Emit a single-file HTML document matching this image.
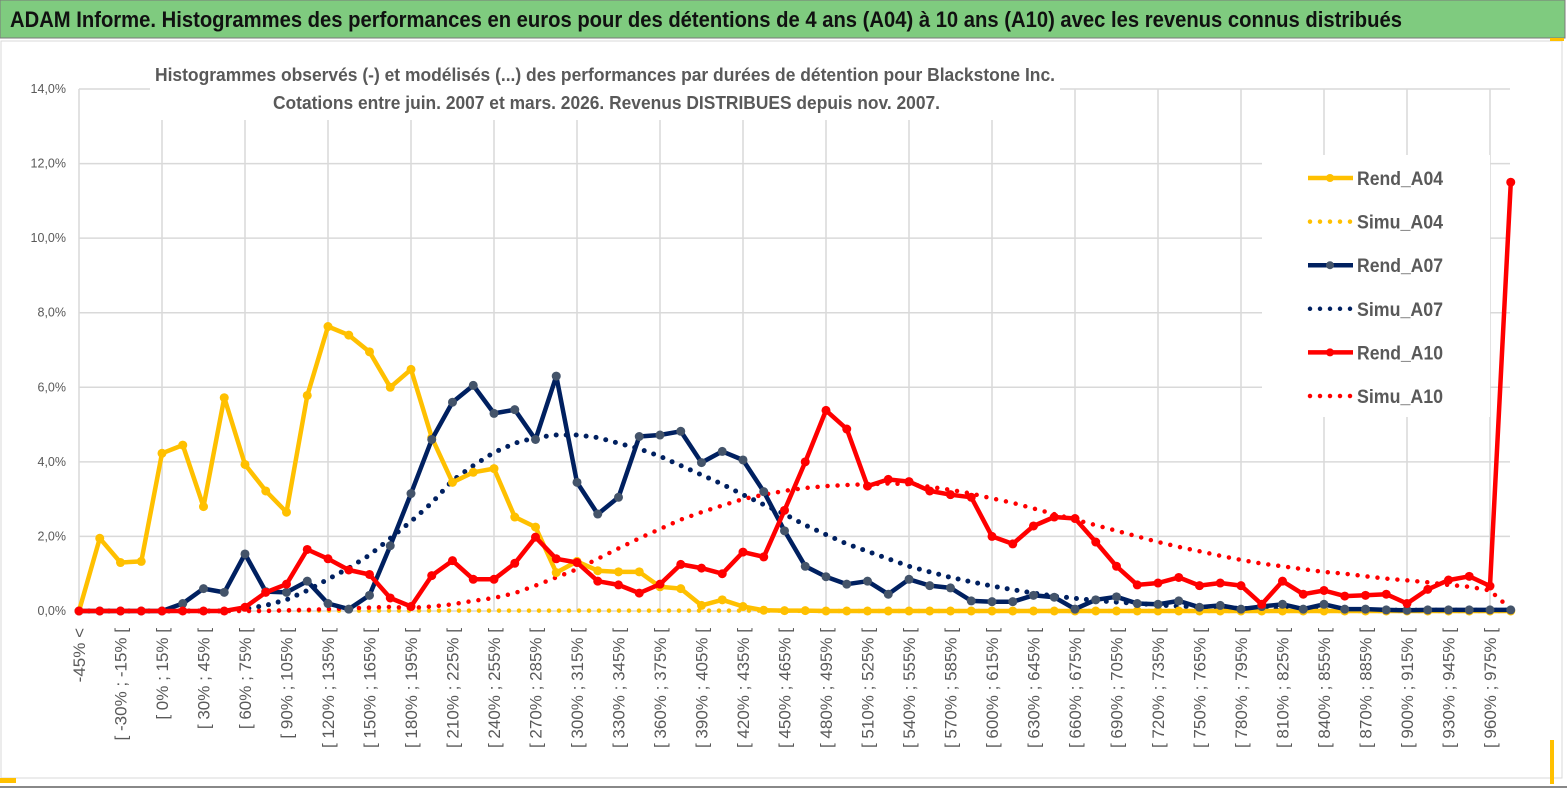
<!DOCTYPE html>
<html><head><meta charset="utf-8"><style>
html,body{margin:0;padding:0;background:#fff;}
svg{display:block;font-family:"Liberation Sans",sans-serif;}
</style></head><body>
<svg id="chart" width="1567" height="789" viewBox="0 0 1567 789" xmlns="http://www.w3.org/2000/svg">
<rect x="0" y="0" width="1567" height="789" fill="#fff"/>
<rect x="0" y="0" width="1565" height="38" fill="#7fcb7f" stroke="#7a7a7a" stroke-width="1"/>
<text x="10" y="27" font-size="22" font-weight="bold" fill="#111" textLength="1392" lengthAdjust="spacingAndGlyphs">ADAM Informe. Histogrammes des performances en euros pour des détentions de 4 ans (A04) à 10 ans (A10) avec les revenus connus distribués</text>
<rect x="1" y="41" width="1561" height="737" fill="none" stroke="#d9d9d9" stroke-width="1"/>
<line x1="0" y1="787" x2="1567" y2="787" stroke="#888" stroke-width="2"/>
<rect x="0" y="778" width="16" height="5" fill="#ffc000"/>
<rect x="1550" y="740" width="4" height="44" fill="#ffc000"/>
<rect x="1550" y="38" width="14" height="3" fill="#ffc000"/>
<g id="grid"></g>
<g id="ylabels"></g>
<g id="xlabels"></g>
<g id="series"></g>
<rect x="150" y="60" width="910" height="60" fill="#fff"/>
<text x="155" y="81" font-size="18" font-weight="bold" fill="#595959" textLength="900" lengthAdjust="spacingAndGlyphs">Histogrammes observés (-)  et modélisés (...) des performances par durées de détention pour Blackstone Inc.</text>
<text x="273" y="109" font-size="18" font-weight="bold" fill="#595959" textLength="667" lengthAdjust="spacingAndGlyphs">Cotations entre juin. 2007 et mars. 2026. Revenus DISTRIBUES depuis nov. 2007.</text>
<g id="legend"></g>
</svg>
<script>
const categories = (function(){ const c=["-45% <"]; for(let a=-45;a<975;a+=15){c.push("[ "+a+"% ; "+(a+15)+"% [");} c.push(">= 975%"); return c; })();
const yTicks = [0,2,4,6,8,10,12,14];
const rendA04 = [0,1.95,1.3,1.33,4.23,4.45,2.8,5.72,3.93,3.22,2.65,5.78,7.63,7.4,6.95,6.0,6.48,4.65,3.45,3.72,3.82,2.52,2.25,1.03,1.33,1.08,1.05,1.05,0.65,0.6,0.15,0.3,0.12,0.02,0.01,0.01,0,0,0,0,0,0,0,0,0,0,0,0,0,0,0,0,0,0,0,0,0,0,0,0,0,0,0,0,0,0,0,0,0,0];
const simuA04 = [0,0,0,0,0,0,0,0,0.01,0.01,0.01,0.01,0.01,0.01,0.01,0.01,0.01,0.01,0.01,0.01,0.01,0.01,0.01,0.01,0.01,0.01,0.01,0.01,0.01,0.01,0.01,0.01,0.01,0.01,0.01,0,0,0,0,0,0,0,0,0,0,0,0,0,0,0,0,0,0,0,0,0,0,0,0,0,0,0,0,0,0,0,0,0,0,0];
const rendA07 = [0,0,0,0,0,0.2,0.6,0.5,1.53,0.52,0.5,0.8,0.2,0.05,0.42,1.75,3.15,4.6,5.6,6.05,5.3,5.4,4.6,6.3,3.45,2.6,3.05,4.68,4.72,4.82,3.98,4.28,4.05,3.2,2.15,1.2,0.92,0.72,0.8,0.45,0.85,0.68,0.62,0.27,0.25,0.25,0.42,0.37,0.05,0.3,0.38,0.2,0.18,0.27,0.1,0.15,0.05,0.12,0.18,0.05,0.18,0.05,0.05,0.03,0.02,0.03,0.03,0.03,0.03,0.03];
const simuA07 = [0,0,0,0,0,0,0,0,0.05,0.15,0.3,0.55,0.85,1.15,1.5,1.95,2.4,2.9,3.5,3.9,4.25,4.5,4.65,4.72,4.72,4.65,4.5,4.35,4.15,3.9,3.65,3.4,3.12,2.85,2.6,2.3,2.05,1.8,1.6,1.4,1.2,1.05,0.9,0.78,0.67,0.57,0.48,0.4,0.34,0.28,0.24,0.2,0.16,0.13,0.11,0.09,0.07,0.06,0.05,0.04,0.03,0.02,0.02,0.02,0.02,0.02,0.02,0.02,0.02,0.02];
const rendA10 = [0,0,0,0,0,0,0,0,0.1,0.5,0.72,1.65,1.4,1.1,0.98,0.35,0.12,0.95,1.35,0.85,0.85,1.28,1.98,1.4,1.3,0.8,0.7,0.48,0.72,1.25,1.15,1.0,1.58,1.45,2.7,4.0,5.38,4.88,3.35,3.53,3.47,3.22,3.12,3.05,2.0,1.8,2.28,2.52,2.48,1.85,1.2,0.7,0.75,0.9,0.68,0.75,0.68,0.18,0.8,0.45,0.55,0.4,0.42,0.45,0.2,0.58,0.83,0.93,0.67,11.5];
const simuA10 = [0,0,0,0,0,0,0,0,0,0,0.02,0.03,0.05,0.07,0.09,0.11,0.08,0.12,0.18,0.27,0.35,0.48,0.68,0.9,1.12,1.4,1.68,1.95,2.2,2.45,2.65,2.83,3.0,3.12,3.22,3.3,3.35,3.38,3.4,3.42,3.4,3.33,3.25,3.15,3.02,2.9,2.75,2.6,2.45,2.3,2.15,2.0,1.85,1.72,1.6,1.48,1.37,1.27,1.2,1.12,1.05,1.0,0.93,0.87,0.82,0.77,0.7,0.65,0.55,0.05];

const NS="http://www.w3.org/2000/svg";
const X0=79, XSTEP=20.75, Y0=611, YPER=(611-89)/14, XR=1510;
function xs(i){return X0+XSTEP*i;}
function ys(v){return Y0-v*YPER;}
function mk(tag,attrs,parent){const e=document.createElementNS(NS,tag);for(const k in attrs)e.setAttribute(k,attrs[k]);parent.appendChild(e);return e;}

const grid=document.getElementById('grid');
yTicks.forEach(function(t){
  const l=mk('line',{x1:X0,x2:XR,y1:ys(t),y2:ys(t),stroke:'#d9d9d9','stroke-width':1.5},grid);
  
  
  const tx=mk('text',{x:66,y:ys(t)+4,'font-size':12.5,fill:'#595959','text-anchor':'end'},document.getElementById('ylabels'));
  tx.textContent=t.toFixed(1).replace('.',',')+'%';
  
  
});
for(let i=0;i<categories.length-1;i+=4){
  const l=mk('line',{x1:xs(i),x2:xs(i),y1:ys(14),y2:Y0,stroke:'#d9d9d9','stroke-width':1.5},grid);
  
  
}
const xl=document.getElementById('xlabels');
categories.forEach(function(c,i){
  if(i%2!==0)return;
  const tx=mk('text',{x:0,y:0,'font-size':17,fill:'#595959','text-anchor':'end',transform:'translate('+(xs(i)+6)+',628) rotate(-90)'},xl);
  tx.textContent=c;
  
  
});

const ser=document.getElementById('series');
function pts(arr){return arr.map(function(v,i){return xs(i).toFixed(1)+','+ys(v).toFixed(1);}).join(' ');}
function dotted(arr,color,name,w){
  const p=mk('polyline',{points:pts(arr),fill:'none',stroke:color,'stroke-width':w,'stroke-linecap':'round','stroke-dasharray':'0 10'},ser);
  
  
}
function solid(arr,color,mcolor,name){
  const g=mk('g',{},ser);
  
  
  mk('polyline',{points:pts(arr),fill:'none',stroke:color,'stroke-width':4.5,'stroke-linejoin':'round'},g);
  arr.forEach(function(v,i){
    const c=mk('circle',{cx:xs(i),cy:ys(v),r:4.5,fill:mcolor},g);
    
    
  });
}
dotted(simuA04,'#ffc000','simu-a04-line',4.5);
dotted(simuA07,'#002060','simu-a07-line',5);
dotted(simuA10,'#ff0000','simu-a10-line',4.5);
solid(rendA04,'#ffc000','#ffc000','rend-a04-line');
solid(rendA07,'#002060','#44546a','rend-a07-line');
solid(rendA10,'#ff0000','#ff0000','rend-a10-line');

const leg=document.getElementById('legend');
const lbg=mk('rect',{x:1262,y:155,width:228,height:262,fill:'#fff'},leg);


const legendNames=['Rend_A04','Simu_A04','Rend_A07','Simu_A07','Rend_A10','Simu_A10'];
const legendColors=['#ffc000','#ffc000','#002060','#002060','#ff0000','#ff0000'];
legendNames.forEach(function(n,k){
  const y=178+k*43.6;
  const g=mk('g',{},leg);
  
  
  if(k%2===0){
    mk('line',{x1:1308,x2:1353,y1:y,y2:y,stroke:legendColors[k],'stroke-width':4.5},g);
    mk('circle',{cx:1330,cy:y,r:4,fill:k===2?'#44546a':legendColors[k]},g);
  } else {
    mk('line',{x1:1310,x2:1353,y1:y,y2:y,stroke:legendColors[k],'stroke-width':4.5,'stroke-linecap':'round','stroke-dasharray':'0 10'},g);
  }
  const t=mk('text',{x:1357,y:y+7,'font-size':19,'font-weight':'bold',fill:'#595959',textLength:86,lengthAdjust:'spacingAndGlyphs'},g);
  t.textContent=n;
});
</script>
</body></html>
